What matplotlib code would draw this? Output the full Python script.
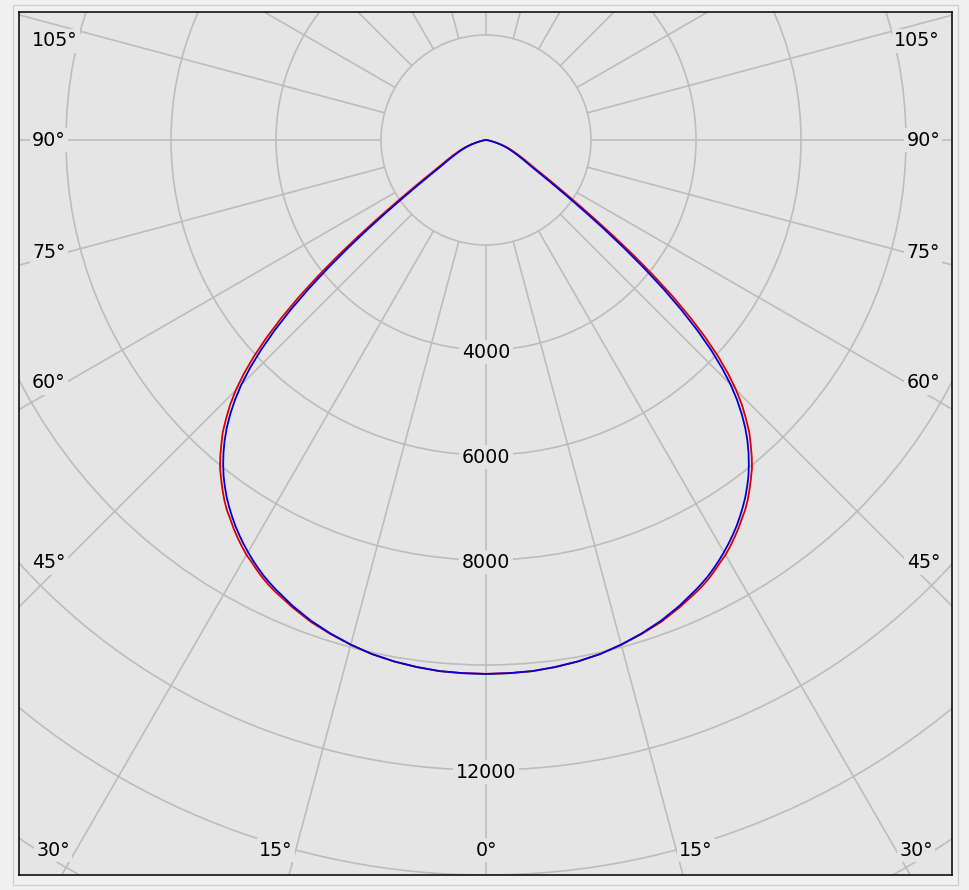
import numpy as np
import matplotlib
matplotlib.use("Agg")
import matplotlib.pyplot as plt
from matplotlib.patches import Circle, Rectangle

# ---------------- data ----------------
gamma_deg = [0, 2.5, 5, 7.5, 10, 12.5, 15, 17.5, 20, 22.5, 25,
             26, 27, 28, 29, 30, 31, 32, 33, 34, 35, 36, 37, 38, 39, 40,
             41, 42, 43, 44, 45, 46, 47, 48, 49, 50, 51, 52, 53, 54, 55,
             56, 57, 58, 59, 60, 62.5, 65, 67.5, 70, 72.5, 75, 77.5, 80,
             82.5, 85, 87.5, 90]
blue_cd = [10170, 10165, 10155, 10125, 10085, 10030, 9950, 9855, 9745, 9610, 9455,
           9390, 9320, 9240, 9155, 9065, 8970, 8870, 8765, 8650, 8530, 8405, 8265,
           8120, 7955, 7780, 7590, 7380, 7145, 6885, 6590, 6245, 5855, 5415, 4930,
           4410, 3865, 3320, 2810, 2350, 1970, 1665, 1425, 1235, 1085, 970, 780,
           630, 515, 410, 305, 200, 115, 55, 25, 5, 0, 0]
red_cd = [10170, 10165, 10155, 10125, 10085, 10030, 9955, 9865, 9765, 9635, 9495,
          9435, 9365, 9285, 9200, 9125, 9030, 8930, 8825, 8710, 8605, 8480, 8340,
          8195, 8050, 7875, 7685, 7495, 7260, 7020, 6740, 6415, 6045, 5625, 5160,
          4660, 4115, 3570, 3040, 2560, 2160, 1835, 1575, 1370, 1200, 1065, 855,
          690, 560, 450, 335, 220, 125, 65, 25, 5, 0, 0]

ring_values = [2000, 4000, 6000, 8000, 10000, 12000, 14000, 16000]
ring_labels = ["4000", "6000", "8000", "12000"]
spoke_angles = list(range(0, 360, 15))

left_labels = ["105°", "90°", "75°", "60°", "45°"]
right_labels = ["105°", "90°", "75°", "60°", "45°"]
bottom_labels = ["30°", "15°", "0°", "15°", "30°"]

# ---------------- layout (pixels) ----------------
W, H = 969, 890
ax_l, ax_r, ax_t, ax_b = 19, 952, 12, 875
cx, cy = 486, 140          # pole position in pixels
px_per_cd = 52.5 / 1000.0

fig = plt.figure(figsize=(W / 100, H / 100), dpi=100, facecolor="#f0f0f0")
fig.patches.append(Rectangle((13 / W, 1 - 885 / H), (958 - 13) / W, (885 - 5) / H,
                             transform=fig.transFigure, fill=False,
                             edgecolor="#cfcfcf", linewidth=0.9))
ax = fig.add_axes([ax_l / W, 1 - ax_b / H, (ax_r - ax_l) / W, (ax_b - ax_t) / H])
axbg = "#e5e5e5"
ax.set_facecolor(axbg)
ax.set_xlim(-(cx - ax_l) / px_per_cd, (ax_r - cx) / px_per_cd)
ax.set_ylim(-(ax_b - cy) / px_per_cd, (cy - ax_t) / px_per_cd)
ax.set_xticks([])
ax.set_yticks([])
for s in ax.spines.values():
    s.set_color("#111111")
    s.set_linewidth(1.2)

gridc = "#bdbdbd"
glw = 1.2
for r in ring_values:
    ax.add_patch(Circle((0, 0), r, fill=False, edgecolor=gridc, linewidth=glw, zorder=1))
rmin, rmax = ring_values[0], 30000
for a in spoke_angles:
    t = np.deg2rad(a)
    ax.plot([rmin * np.sin(t), rmax * np.sin(t)], [-rmin * np.cos(t), -rmax * np.cos(t)],
            color=gridc, linewidth=glw, zorder=1, solid_capstyle="butt")

# curves (both half planes)
g = np.deg2rad(np.array(gamma_deg))
theta = np.concatenate([-g[::-1], g[1:]])
for vals, col, z in [(red_cd, "#dd0000", 5), (blue_cd, "#0000d8", 6)]:
    v = np.array(vals, dtype=float)
    I = np.concatenate([v[::-1], v[1:]])
    ax.plot(I * np.sin(theta), -I * np.cos(theta), color=col, linewidth=1.3, zorder=z,
            solid_joinstyle="round")

fs = 13.7
bbox = dict(facecolor=axbg, edgecolor="none", pad=1.8)
for lab in ring_labels:
    ax.text(0, -float(lab) - 40, lab, ha="center", va="center", fontsize=fs,
            color="black", bbox=bbox, zorder=4)

def fx(px):
    return (px - ax_l) / (ax_r - ax_l)

def fy(py):
    return (ax_b - py) / (ax_b - ax_t)

left_y = [41, 140, 253, 383, 563]
for lab, y in zip(left_labels, left_y):
    ax.text(fx(32), fy(y), lab, transform=ax.transAxes, ha="left", va="center",
            fontsize=fs, bbox=bbox, zorder=4)
for lab, y in zip(right_labels, left_y):
    ax.text(fx(940), fy(y), lab, transform=ax.transAxes, ha="right", va="center",
            fontsize=fs, bbox=bbox, zorder=4)
bottom_x = [53, 276, 486, 696, 916]
for lab, x in zip(bottom_labels, bottom_x):
    ax.text(fx(x), fy(850), lab, transform=ax.transAxes, ha="center", va="center",
            fontsize=fs, bbox=bbox, zorder=4)

fig.savefig("out.png", dpi=100, facecolor=fig.get_facecolor())
